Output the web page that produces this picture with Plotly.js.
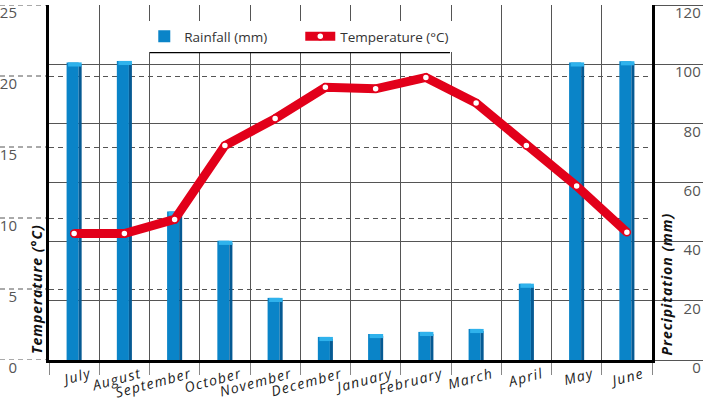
<!DOCTYPE html>
<html>
<head>
<meta charset="utf-8">
<script src="https://cdn.plot.ly/plotly-3.0.1.min.js"></script>
<style>
html,body{margin:0;padding:0;background:#fff;}
#chart{width:706px;height:402px;}
#chart .xtick text{letter-spacing:1.3px;}
#chart .annotation-text{letter-spacing:1px;}
</style>
</head>
<body>
<div id="chart"></div>
<script>
const months = ['July','August','September','October','November','December','January','February','March','April','May','June'];
const rainfall = [100.6, 101.1, 50.2, 40.3, 21, 7.8, 8.8, 9.5, 10.5, 25.8, 100.6, 101];
const temperature = [8.9, 8.9, 9.9, 15.1, 17.0, 19.2, 19.1, 19.9, 18.1, 15.1, 12.25, 9.0];
const tempTicks = [0, 5, 10, 15, 20, 25];
const rainTicks = [0, 20, 40, 60, 80, 100, 120];
const rainTickText = ['\u2007\u20070', '\u200720', '\u200740', '\u200760', '\u200780', '100', '120'];

const capH = 1.4;
const font = 'Open Sans, Segoe UI, sans-serif';

const front = {
  type: 'bar', name: 'Rainfall (mm)', x: months, y: rainfall, yaxis: 'y',
  offset: -0.15, width: 0.24,
  marker: {color: '#0a84c8', line: {width: 0}}, hoverinfo: 'skip'
};
const side = {
  type: 'bar', name: 'side', x: months, y: rainfall.map(v => v - capH * 0.5), yaxis: 'y',
  offset: 0.09, width: 0.06, showlegend: false,
  marker: {color: '#055a93', line: {width: 0}}, hoverinfo: 'skip'
};
const cap = {
  type: 'bar', name: 'cap', x: months, y: rainfall.map(() => capH), base: rainfall.map(v => v - capH), yaxis: 'y',
  offset: -0.12, width: 0.27, showlegend: false,
  marker: {color: '#2fb2ec', line: {width: 0}}, hoverinfo: 'skip'
};
const line = {
  type: 'scatter', mode: 'lines+markers', name: 'Temperature (°C)', x: months, y: temperature, yaxis: 'y2',
  line: {color: '#e2001a', width: 9},
  marker: {size: 7, color: '#ffffff', line: {color: '#e2001a', width: 1.5}},
  cliponaxis: false
};

const shapes = tempTicks.map(t => ({
  type: 'line', xref: 'paper', yref: 'y2', x0: -49/603, x1: 0, y0: t, y1: t,
  line: {color: '#555', width: 1, dash: '5px,4px'}, layer: 'below'
}));
shapes.push({
  type: 'line', xref: 'paper', yref: 'paper', x0: 0.1675, x1: 0.665, y0: 0.8676, y1: 0.8676,
  line: {color: '#000', width: 2.5}, layer: 'above'
});

const layout = {
  width: 706, height: 402,
  margin: {l: 49, r: 54, t: 5, b: 42},
  paper_bgcolor: '#fff', plot_bgcolor: '#fff',
  barmode: 'overlay',
  showlegend: true,
  legend: {
    orientation: 'h', x: 0.158, y: 0.955, xanchor: 'left', yanchor: 'top',
    bgcolor: '#fff', borderwidth: 0, entrywidth: 111, entrywidthmode: 'pixels',
    font: {family: font, size: 13.5, color: '#333'}
  },
  xaxis: {
    type: 'category', tickson: 'boundaries', ticks: 'outside', ticklen: 12, tickcolor: '#888', tickwidth: 1,
    showgrid: true, gridcolor: '#555', gridwidth: 1,
    showline: true, linecolor: '#000', linewidth: 3,
    tickangle: -15, ticklabelshift: 16, ticklabelstandoff: -2,
    tickfont: {family: font, size: 14, style: 'italic', color: '#222'},
    range: [-0.5, 11.5], fixedrange: true
  },
  yaxis2: {
    overlaying: 'y', side: 'left',
    range: [0, 25], tickvals: tempTicks, showgrid: true, gridcolor: '#555', gridwidth: 1, griddash: '5px,4px',
    showline: true, linecolor: '#000', linewidth: 3, zeroline: false, ticks: '',
    ticklabelshift: 8, ticklabelstandoff: 26, ticklabeloverflow: 'allow',
    tickfont: {family: font, size: 15, color: '#555'}
  },
  yaxis: {
    side: 'right', range: [0, 120], tickvals: rainTicks, ticktext: rainTickText,
    showgrid: true, gridcolor: '#555', gridwidth: 1,
    showline: true, linecolor: '#000', linewidth: 3, zeroline: false,
    ticks: 'outside', ticklen: 48, tickcolor: '#555', tickwidth: 1,
    ticklabelshift: 8, ticklabelstandoff: -31, ticklabeloverflow: 'allow',
    tickfont: {family: font, size: 15, color: '#555'}
  },
  shapes: shapes,
  annotations: [
    {text: 'Temperature (°C)', xref: 'paper', yref: 'paper', x: -13/603, y: 12/355, xanchor: 'center', yanchor: 'bottom',
     textangle: -90, showarrow: false, font: {family: font, size: 14, weight: 'bold', style: 'italic', color: '#111'}},
    {text: 'Precipitation (mm)', xref: 'paper', yref: 'paper', x: 1 + 14/603, y: 12/355, xanchor: 'center', yanchor: 'bottom',
     textangle: -90, showarrow: false, font: {family: font, size: 14, weight: 'bold', style: 'italic', color: '#111'}}
  ]
};

Plotly.newPlot('chart', [front, side, cap, line], layout, {displayModeBar: false, staticPlot: true});
</script>
</body>
</html>
